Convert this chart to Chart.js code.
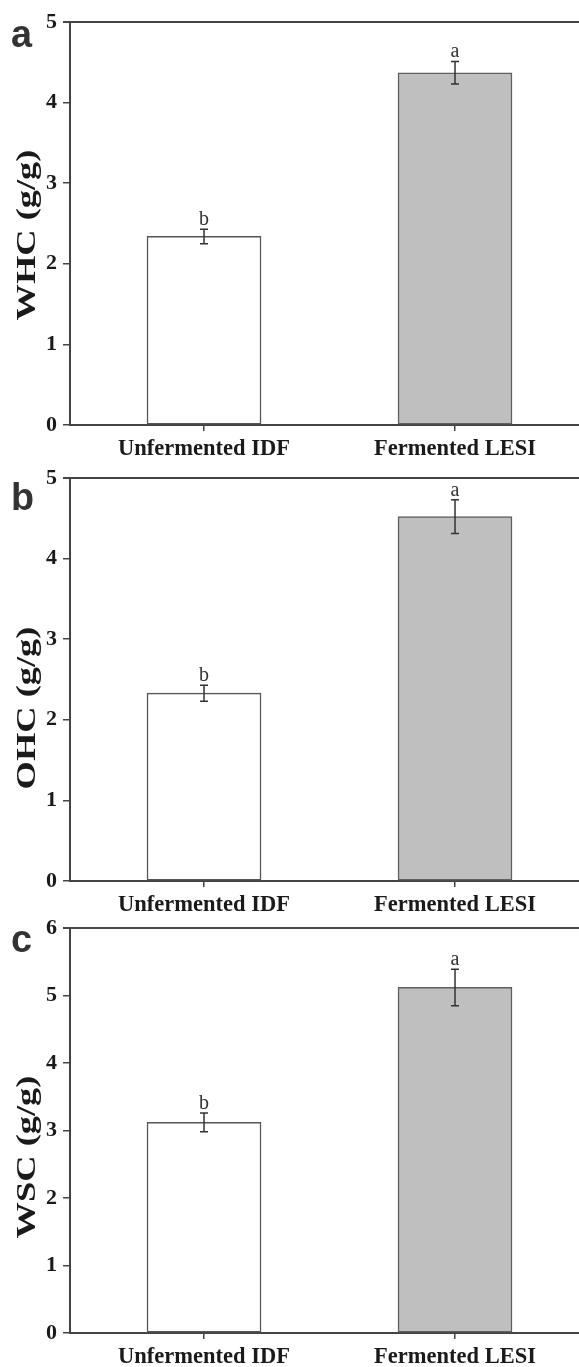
<!DOCTYPE html>
<html>
<head>
<meta charset="utf-8">
<script src="https://cdn.jsdelivr.net/npm/chart.js@4.4.1/dist/chart.umd.min.js"></script>
<style>
  body { margin: 0; background: #fff; }
  #wrap { position: relative; width: 579px; height: 1367px; overflow: hidden; }
  canvas { position: absolute; left: 0; }
</style>
</head>
<body>
<div id="wrap">
  <canvas id="panelA" width="579" height="470" style="top:0px"></canvas>
  <canvas id="panelB" width="579" height="470" style="top:456px"></canvas>
  <canvas id="panelC" width="579" height="461" style="top:906px"></canvas>
</div>
<script>
// categories and values
const categories = ['Unfermented IDF', 'Fermented LESI'];
const sigLetters = ['b', 'a'];

const whcMeans = [2.34, 4.37];
const whcErrors = [0.09, 0.14];

const ohcMeans = [2.33, 4.52];
const ohcErrors = [0.10, 0.21];

const wscMeans = [3.12, 5.12];
const wscErrors = [0.14, 0.27];

const barFills = ['#ffffff', '#bfbfbf'];
const barEdges = ['#555555', '#5f5f5f'];

const serif = '"Liberation Serif", "Times New Roman", serif';

/**
 * Frame line, error bars, letters, rotated y title and panel tag
 */
const panelDecor = {
    id: 'panelDecor',
    afterDatasetsDraw(chart, args, opts) {
        const { ctx, chartArea } = chart;
        const xs = chart.scales.x;
        const ys = chart.scales.y;
        const points = chart.data.datasets[0].data;

        ctx.save();
        // top border
        ctx.strokeStyle = '#444';
        ctx.lineWidth = 2;
        ctx.beginPath();
        ctx.moveTo(chartArea.left - 7, chartArea.top);
        ctx.lineTo(chartArea.right, chartArea.top);
        ctx.stroke();

        // error bars and significance letters
        opts.errors.forEach((err, i) => {
            const px = xs.getPixelForValue(points[i].x);
            const top = ys.getPixelForValue(points[i].y + err);
            const bot = ys.getPixelForValue(points[i].y - err);
            ctx.strokeStyle = '#333';
            ctx.lineWidth = 1.5;
            ctx.beginPath();
            ctx.moveTo(px, top); ctx.lineTo(px, bot);
            ctx.moveTo(px - 4, top); ctx.lineTo(px + 4, top);
            ctx.moveTo(px - 4, bot); ctx.lineTo(px + 4, bot);
            ctx.stroke();

            ctx.fillStyle = '#333';
            ctx.font = '20px ' + serif;
            ctx.textAlign = 'center';
            ctx.textBaseline = 'alphabetic';
            ctx.fillText(sigLetters[i], px, top - 4);
        });

        // y title, stretched along its length like the figure
        ctx.save();
        ctx.translate(opts.titleX, opts.titleY);
        ctx.rotate(-Math.PI / 2);
        ctx.scale(1.3, 1);
        ctx.fillStyle = '#1a1a1a';
        ctx.font = 'bold 28px ' + serif;
        ctx.textAlign = 'center';
        ctx.textBaseline = 'middle';
        ctx.fillText(opts.title, 0, 0);
        ctx.restore();

        // panel tag
        ctx.save();
        ctx.translate(11, opts.tagBase);
        ctx.scale(1.05, 1.1);
        ctx.fillStyle = '#333';
        ctx.font = 'bold 36px "Liberation Sans", Arial, sans-serif';
        ctx.textAlign = 'left';
        ctx.textBaseline = 'alphabetic';
        ctx.fillText(opts.tag, 0, 0);
        ctx.restore();

        ctx.restore();
    }
};

function makePanel(id, cfg) {
    const points = cfg.means.map((v, i) => ({ x: i + 1, y: v }));
    return new Chart(document.getElementById(id), {
        type: 'bar',
        data: {
            datasets: [{
                data: points,
                backgroundColor: barFills,
                borderColor: barEdges,
                borderWidth: 1.5,
                borderSkipped: false,
                barThickness: 114
            }]
        },
        options: {
            responsive: false,
            animation: false,
            events: [],
            layout: { padding: { top: cfg.padTop, right: 0, left: 0, bottom: 0 } },
            plugins: {
                legend: { display: false },
                tooltip: { enabled: false },
                panelDecor: {
                    errors: cfg.errors,
                    title: cfg.title,
                    titleX: 28,
                    titleY: cfg.titleY,
                    tag: cfg.tag,
                    tagBase: cfg.tagBase
                }
            },
            scales: {
                x: {
                    type: 'linear',
                    min: 0.466,
                    max: 2.494,
                    offset: false,
                    afterBuildTicks: (scale) => {
                        scale.ticks = categories.map((c, i) => ({ value: i + 1 }));
                    },
                    afterFit: (scale) => { scale.height = cfg.xHeight; },
                    border: { display: true, color: '#444', width: 2 },
                    grid: {
                        display: true,
                        offset: false,
                        drawOnChartArea: false,
                        drawTicks: true,
                        tickLength: 6,
                        color: '#444',
                        lineWidth: 1.5
                    },
                    ticks: {
                        autoSkip: false,
                        maxRotation: 0,
                        padding: 5,
                        color: '#1a1a1a',
                        font: { family: serif, size: 22.5, weight: 'bold' },
                        callback: (v) => categories[Math.round(v) - 1] || ''
                    }
                },
                y: {
                    min: 0,
                    max: cfg.yMax,
                    afterFit: (scale) => { scale.width = 70; },
                    border: { display: true, color: '#444', width: 2 },
                    grid: {
                        display: true,
                        drawOnChartArea: false,
                        drawTicks: true,
                        tickLength: 7,
                        color: '#444',
                        lineWidth: 1.5
                    },
                    ticks: {
                        stepSize: 1,
                        padding: 6,
                        color: '#1a1a1a',
                        font: { family: serif, size: 22, weight: 'bold' }
                    }
                }
            }
        },
        plugins: [panelDecor]
    });
}

makePanel('panelA', {
    means: whcMeans, errors: whcErrors, yMax: 5,
    title: 'WHC (g/g)', titleY: 235, tag: 'a', tagBase: 47,
    padTop: 22, xHeight: 45
});
makePanel('panelB', {
    means: ohcMeans, errors: ohcErrors, yMax: 5,
    title: 'OHC (g/g)', titleY: 252, tag: 'b', tagBase: 54,
    padTop: 22, xHeight: 45
});
makePanel('panelC', {
    means: wscMeans, errors: wscErrors, yMax: 6,
    title: 'WSC (g/g)', titleY: 251, tag: 'c', tagBase: 46,
    padTop: 22, xHeight: 34
});
</script>
</body>
</html>
